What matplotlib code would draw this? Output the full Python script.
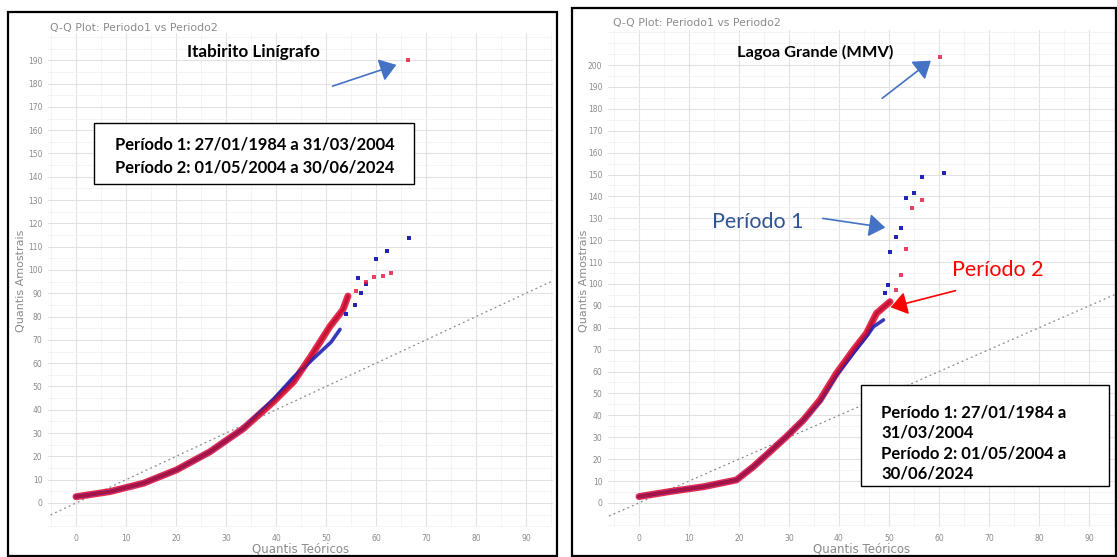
import matplotlib
matplotlib.use("Agg")
import matplotlib.pyplot as plt
from matplotlib.patches import Rectangle, FancyArrowPatch
from matplotlib.ticker import MultipleLocator

W, H = 1117, 557

# ---------------- data ----------------
# Left panel: Itabirito Linígrafo
L_p1_body_x = [0, 6.8, 13.5, 20.1, 26.8, 33.5, 39.5, 43.5, 46.0, 48.8, 51.0, 52.8]
L_p1_body_y = [2.7, 4.9, 8.5, 14.2, 22.0, 32.0, 44.5, 54.0, 59.0, 64.6, 69.0, 74.5]
L_p1_tail_x = [54.0, 55.8, 56.4, 57.0, 58.0, 60.0, 62.2, 66.6]
L_p1_tail_y = [81.0, 85.0, 96.6, 90.0, 94.0, 104.6, 108.0, 113.8]
L_p2_body_x = [0, 6.8, 13.5, 20.1, 26.8, 33.5, 39.5, 43.5, 47.0, 50.8, 53.4, 54.4]
L_p2_body_y = [2.7, 4.9, 8.5, 14.2, 22.0, 32.0, 43.5, 52.0, 63.0, 75.8, 83.0, 88.8]
L_p2_tail_x = [56.0, 58.0, 59.5, 61.4, 63.0, 66.4]
L_p2_tail_y = [91.0, 95.0, 97.0, 97.6, 98.5, 190.0]

# Right panel: Lagoa Grande (MMV)
R_p1_body_x = [0, 6.2, 12.9, 19.5, 22.9, 26.2, 29.5, 32.9, 36.2, 39.5, 42.9, 45.5, 46.9, 48.9]
R_p1_body_y = [2.9, 5.2, 7.4, 10.5, 16.6, 23.4, 30.3, 37.9, 46.5, 58.5, 68.5, 76.0, 80.5, 83.6]
R_p1_tail_x = [49.2, 49.9, 50.3, 51.4, 52.4, 53.5, 55.0, 56.7, 61.0]
R_p1_tail_y = [95.8, 99.5, 114.7, 121.3, 125.4, 139.1, 141.4, 148.7, 150.5]
R_p2_body_x = [0, 6.2, 12.9, 19.5, 22.9, 26.2, 29.5, 32.9, 36.2, 39.5, 42.9, 45.5, 47.5, 50.2]
R_p2_body_y = [2.9, 5.2, 7.4, 10.5, 16.6, 23.4, 30.3, 37.9, 47.0, 59.2, 69.9, 77.5, 86.6, 91.9]
R_p2_tail_x = [51.5, 52.4, 53.4, 54.7, 56.7, 60.2]
R_p2_tail_y = [97.3, 104.0, 115.8, 134.6, 138.4, 203.7]

ref_line = [-6, 97]

x_ticks = [0, 10, 20, 30, 40, 50, 60, 70, 80, 90]
L_y_ticks = list(range(0, 191, 10))
R_y_ticks = list(range(0, 201, 10))

title_txt = "Q-Q Plot: Periodo1 vs Periodo2"
xlabel_txt = "Quantis Teóricos"
ylabel_txt = "Quantis Amostrais"
period_txt_left = "Período 1: 27/01/1984 a 31/03/2004\nPeríodo 2: 01/05/2004 a 30/06/2024"
period_txt_right = "Período 1: 27/01/1984 a\n31/03/2004\nPeríodo 2: 01/05/2004 a\n30/06/2024"

C_P1 = "#2323b4"
C_P2 = "#e0143c"
C_ARROW = "#4472C4"
GRAY = "#8a8a8a"

# ---------------- helpers ----------------
fig = plt.figure(figsize=(W / 100, H / 100), dpi=100)
fig.patch.set_facecolor("white")


def fx(px):
    return px / W


def fy(py):
    return 1 - py / H


def rect(x0, y0, x1, y1):
    return [x0 / W, 1 - y1 / H, (x1 - x0) / W, (y1 - y0) / H]


def frame(x0, y0, x1, y1, lw=1.6):
    fig.patches.append(Rectangle((fx(x0), fy(y1)), (x1 - x0) / W, (y1 - y0) / H,
                                 transform=fig.transFigure, fill=False,
                                 edgecolor="black", linewidth=lw, zorder=10))


def textbox(x0, y0, x1, y1, lw=1.0):
    fig.patches.append(Rectangle((fx(x0), fy(y1)), (x1 - x0) / W, (y1 - y0) / H,
                                 transform=fig.transFigure, facecolor="white",
                                 edgecolor="black", linewidth=lw, zorder=20))


def arrow(x0, y0, x1, y1, color, lw=1.2, hw=7, hl=10):
    fig.add_artist(FancyArrowPatch(
        (fx(x0), fy(y0)), (fx(x1), fy(y1)), transform=fig.transFigure,
        arrowstyle=f"-|>,head_width={hw/2.5},head_length={hl/2.5}",
        color=color, linewidth=lw, mutation_scale=2.5, zorder=30))


def panel(axr, xlim, ylim, yticks, series, title_pos, ylabel_x):
    ax = fig.add_axes(rect(*axr))
    ax.set_xlim(*xlim)
    ax.set_ylim(*ylim)
    ax.set_xticks(x_ticks)
    ax.set_yticks(yticks)
    ax.xaxis.set_minor_locator(MultipleLocator(5))
    ax.yaxis.set_minor_locator(MultipleLocator(5))
    ax.grid(True, which="major", color="#e2e2e2", linewidth=0.8)
    ax.grid(True, which="minor", color="#f2f2f2", linewidth=0.6)
    ax.set_axisbelow(True)
    for s in ax.spines.values():
        s.set_visible(False)
    ax.tick_params(which="both", length=0, labelsize=5.5, labelcolor=GRAY)
    ax.tick_params(axis="x", pad=5)
    ax.tick_params(axis="y", pad=4)
    ax.plot(ref_line, ref_line, linestyle=(0, (1.5, 2.5)), color=GRAY, linewidth=0.9, zorder=2)
    (p1bx, p1by, p1tx, p1ty, p2bx, p2by, p2tx, p2ty) = series
    ax.plot(p2bx, p2by, color=C_P2, linewidth=5.0, solid_capstyle="round", alpha=0.9, zorder=3)
    ax.plot(p1bx, p1by, color=C_P1, linewidth=2.6, solid_capstyle="round", alpha=0.9, zorder=4)
    ax.plot(p2bx, p2by, color="#c0102e", linewidth=2.2, solid_capstyle="round", alpha=0.85, zorder=5)
    ax.scatter(p1tx, p1ty, s=9, marker="s", color=C_P1, zorder=6, linewidths=0)
    ax.scatter(p2tx, p2ty, s=9, marker="s", color=C_P2, zorder=6, linewidths=0, alpha=0.8)
    ax.set_xlabel(xlabel_txt, fontsize=8.5, color=GRAY, labelpad=0)
    fig.text(fx(ylabel_x), fy(281), ylabel_txt, rotation=90,
             fontsize=8, color=GRAY, ha="center", va="center")
    fig.text(fx(title_pos[0]), fy(title_pos[1]), title_txt, fontsize=7.8, color=GRAY,
             ha="left", va="center")
    return ax


# frames
frame(8, 12, 557, 556)
frame(572, 8, 1116, 556)

panel((48, 33, 553, 527), (-5.6, 95.4), (-10.3, 201.7), L_y_ticks,
      (L_p1_body_x, L_p1_body_y, L_p1_tail_x, L_p1_tail_y,
       L_p2_body_x, L_p2_body_y, L_p2_tail_x, L_p2_tail_y),
      (50, 28), 21)
panel((608, 30, 1115, 527), (-6.2, 95.2), (-11.0, 216.0), R_y_ticks,
      (R_p1_body_x, R_p1_body_y, R_p1_tail_x, R_p1_tail_y,
       R_p2_body_x, R_p2_body_y, R_p2_tail_x, R_p2_tail_y),
      (613, 23), 584)

FONT = ["Lato", "DejaVu Sans"]

# titles of stations
fig.text(fx(253), fy(52), "Itabirito Linígrafo", fontsize=12.3, fontweight="bold",
         family=FONT, ha="center", va="center", zorder=40)
fig.text(fx(815), fy(52), "Lagoa Grande (MMV)", fontsize=11.8, fontweight="bold",
         family=FONT, ha="center", va="center", zorder=40)

# period boxes
textbox(94, 123, 414, 184)
fig.text(fx(255), fy(156), period_txt_left, fontsize=11.9, fontweight="bold", family=FONT,
         ha="center", va="center", linespacing=1.55, zorder=40)
textbox(861, 385, 1109, 486)
fig.text(fx(881), fy(443), period_txt_right, fontsize=12, fontweight="bold", family=FONT,
         ha="left", va="center", linespacing=1.35, zorder=40)

# period labels
fig.text(fx(758), fy(222), "Período 1", fontsize=15.5, color="#2F5597", family=FONT,
         ha="center", va="center", zorder=40)
fig.text(fx(998), fy(270), "Período 2", fontsize=15.5, color="#FF0000", family=FONT,
         ha="center", va="center", zorder=40)

# arrows
arrow(330, 87, 399, 64, C_ARROW)
arrow(880, 100, 933, 59, C_ARROW)
arrow(820, 218, 888, 228, C_ARROW)
arrow(958, 290, 888, 308, "#FF0000")

fig.savefig("out.png", dpi=100, facecolor="white")
